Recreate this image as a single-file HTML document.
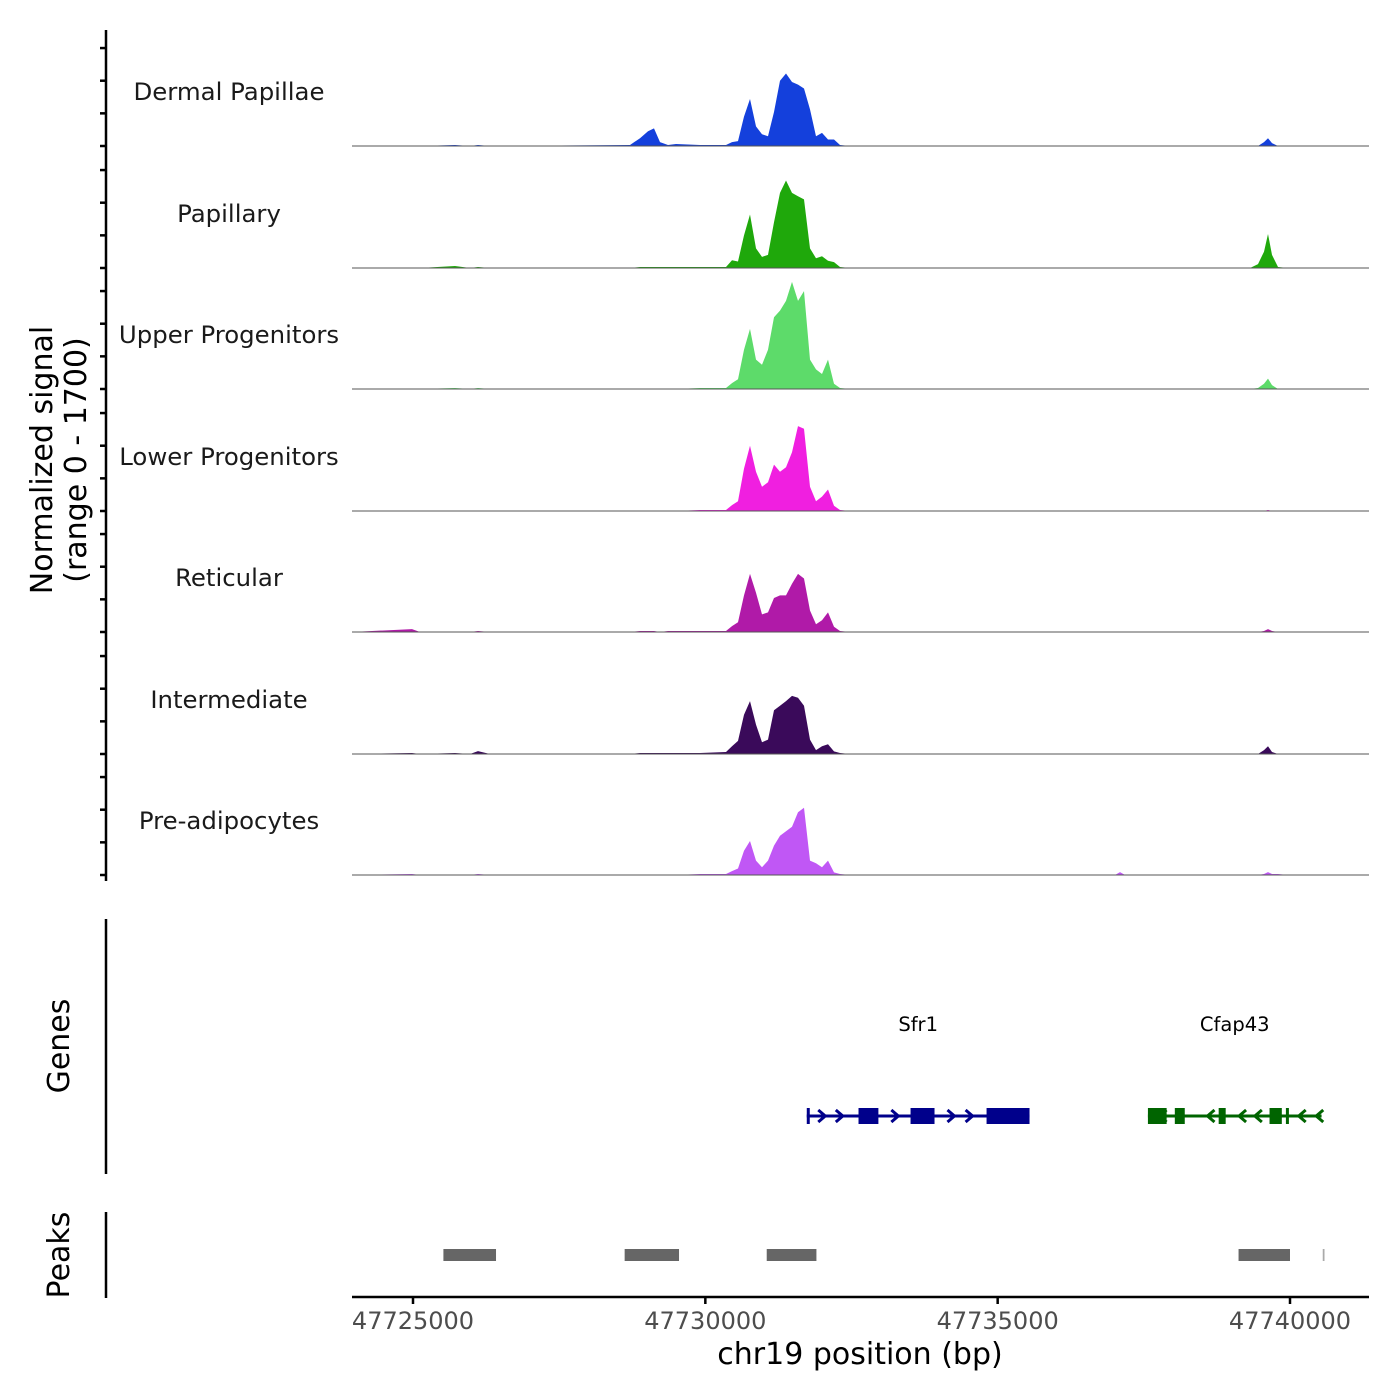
<!DOCTYPE html>
<html><head><meta charset="utf-8"><style>
html,body{margin:0;padding:0;background:#fff;}
svg{display:block;font-family:"DejaVu Sans","Liberation Sans",sans-serif;}
</style></head><body>
<svg id="chart" width="1400" height="1400" viewBox="0 0 1400 1400" xmlns="http://www.w3.org/2000/svg"></svg>
<script>
const positions=[47723957,47724983,47725120,47725718,47725975,47726112,47726317,47728711,47728882,47729019,47729122,47729225,47729361,47729498,47729909,47730353,47730456,47730559,47730661,47730764,47730866,47730969,47731072,47731174,47731277,47731379,47731482,47731585,47731687,47731790,47731893,47731995,47732098,47732201,47732303,47732474,47735040,47737006,47737092,47737180,47739316,47739452,47739555,47739623,47739692,47739795,47739966,47741350];
const trackNames=["Dermal Papillae","Papillary","Upper Progenitors","Lower Progenitors","Reticular","Intermediate","Pre-adipocytes"];
const trackColors=["#1440dc","#1fa80b","#5ddb6a","#f01fe0","#b01aa8","#3a0a5a","#c057f5"];
const dermalValues=[0,0,0,15,0,15,0,15,120,225,270,60,15,30,15,15,60,75,450,720,300,180,150,520,1000,1110,980,940,880,560,150,200,100,100,15,0,0,0,0,0,0,0,60,120,45,0,0,0];
const papillaryValues=[0,0,0,30,0,15,0,0,15,15,15,15,15,15,15,15,120,100,500,820,300,170,200,700,1150,1340,1150,1100,1050,300,150,180,110,90,15,0,0,0,0,0,0,60,250,520,200,15,0,0];
const upperValues=[0,0,0,15,0,15,0,0,0,0,0,0,0,0,15,15,90,150,600,920,450,370,600,1100,1200,1350,1640,1350,1500,450,300,230,450,80,15,0,0,0,0,0,0,15,80,160,60,0,0,0];
const lowerValues=[0,0,0,0,0,0,0,0,0,0,0,0,0,0,15,15,90,150,650,1000,600,370,440,710,600,670,900,1300,1260,370,150,220,330,80,15,0,0,0,0,0,0,0,0,15,0,0,0,0];
const reticularValues=[0,45,0,0,0,15,0,0,15,15,15,0,15,15,15,15,90,150,560,890,600,270,300,520,560,560,740,890,820,330,120,180,300,80,15,0,0,0,0,0,0,0,15,45,15,0,0,0];
const intermediateValues=[0,15,0,15,0,45,0,0,15,15,15,15,15,15,15,30,120,200,600,810,450,180,220,670,740,810,890,860,740,220,60,120,150,40,15,0,0,0,0,0,0,0,60,120,30,0,0,0];
const preadipoValues=[0,15,0,0,0,15,0,0,0,0,0,0,0,0,15,15,60,100,370,520,220,120,220,450,600,670,740,960,1030,220,180,120,220,40,15,0,0,0,45,0,0,0,15,45,15,15,0,0];
const trackValues=[dermalValues,papillaryValues,upperValues,lowerValues,reticularValues,intermediateValues,preadipoValues];
const yTickValues=[0,500,1000,1500];
const xTicks=[47725000,47730000,47735000,47740000];
const xTickLabels=["47725000","47730000","47735000","47740000"];
const peakStarts=[47725520,47728620,47731050,47739120,47740560];
const peakEnds=[47726420,47729550,47731900,47740000,47740590];
const sfr1Exons=[[47731735,47731760],[47732620,47732960],[47733510,47733920],[47734810,47735545]];
const sfr1Span=[47731735,47735545];
const sfr1Arrows=[47732000,47732300,47733250,47734210,47734520];
const cfapExons=[[47737570,47737890],[47738030,47738200],[47738780,47738900],[47739650,47739860],[47739930,47739950]];
const cfapSpan=[47737570,47740540];
const cfapArrows=[47737820,47738640,47739180,47739450,47740200,47740500];

const NS="http://www.w3.org/2000/svg";
const svg=document.getElementById("chart");
function el(tag,attrs,parent){const e=document.createElementNS(NS,tag);for(const k in attrs)e.setAttribute(k,attrs[k]);(parent||svg).appendChild(e);return e;}
const X0=47725000,PX0=413,PXK=(1290-413)/15000;
function xs(bp){return PX0+(bp-X0)*PXK;}
const baselines=[146,268,389,511,632,754,875];
const trackH=111;
function ys(v,i){return baselines[i]-v/1700*trackH;}
const xL=352,xR=1369;

for(let i=0;i<trackValues.length;i++){
  const g=el("g",{});
  
  
  let d="M"+xL+","+baselines[i];
  for(let j=0;j<positions.length;j++){d+=" L"+xs(positions[j]).toFixed(1)+","+ys(trackValues[i][j],i).toFixed(1);}
  d+=" L"+xR+","+baselines[i]+" Z";
  const p=el("path",{d:d,fill:trackColors[i],stroke:"none"},g);
  
  
  const bl=el("line",{x1:xL,x2:xR,y1:baselines[i],y2:baselines[i],stroke:"#555",'stroke-width':1},g);
  
  
  const t=el("text",{x:229,y:baselines[i]-46,'text-anchor':'middle','font-size':24.4,fill:"#1a1a1a"},g);
  t.textContent=trackNames[i];
  
  
  for(const v of yTickValues){const y=ys(v,i);
    const tk=el("line",{x1:100,x2:106,y1:y,y2:y,stroke:"#000",'stroke-width':2.5});
    }
}

function vline(y1,y2,name){const l=el("line",{x1:106,x2:106,y1:y1,y2:y2,stroke:"#000",'stroke-width':2.5});}
vline(30,881,'signal-y-axis');vline(919,1174,'genes-y-axis');vline(1212,1298,'peaks-y-axis');
const yt=el("text",{transform:"translate(52,460) rotate(-90)",'text-anchor':'middle','font-size':30,fill:"#000"});

const ts1=el("tspan",{x:0,dy:0},yt);ts1.textContent="Normalized signal";
const ts2=el("tspan",{x:0,dy:34},yt);ts2.textContent="(range 0 - 1700)";
const gt=el("text",{transform:"translate(69,1046) rotate(-90)",'text-anchor':'middle','font-size':30,fill:"#000"});
gt.textContent="Genes";
const pt=el("text",{transform:"translate(69,1255) rotate(-90)",'text-anchor':'middle','font-size':30,fill:"#000"});
pt.textContent="Peaks";

function gene(span,exons,arrows,dir,color,label,name){
  const g=el("g",{});
  const y=1116;
  el("line",{x1:xs(span[0]),x2:xs(span[1]),y1:y,y2:y,stroke:color,'stroke-width':3},g);
  for(const e of exons){const w=Math.max(3,xs(e[1])-xs(e[0]));
    const r=el("rect",{x:xs(e[0]),y:y-8,width:w,height:16,fill:color},g);
    }
  for(const a of arrows){const x=xs(a);
    const d=dir>0?`M${x-4},${y-6} L${x+3},${y} L${x-4},${y+6}`:`M${x+4},${y-6} L${x-3},${y} L${x+4},${y+6}`;
    el("path",{d:d,fill:"none",stroke:color,'stroke-width':3},g);}
  const t=el("text",{x:(xs(span[0])+xs(span[1]))/2,y:1031,'text-anchor':'middle','font-size':19.5,fill:"#000"},g);
  t.textContent=label;
}
gene(sfr1Span,sfr1Exons,sfr1Arrows,1,"#00008b","Sfr1","gene-sfr1");
gene(cfapSpan,cfapExons,cfapArrows,-1,"#006400","Cfap43","gene-cfap43");

for(let i=0;i<peakStarts.length;i++){
  const w=Math.max(1,xs(peakEnds[i])-xs(peakStarts[i]));
  const r=el("rect",{x:xs(peakStarts[i]),y:1249,width:w,height:12,fill:w<3?"#aaa":"#666"});
  
}

const xa=el("line",{x1:xL,x2:xR,y1:1297,y2:1297,stroke:"#000",'stroke-width':2.5});

for(let i=0;i<xTicks.length;i++){const x=xs(xTicks[i]);
  const t=el("line",{x1:x,x2:x,y1:1297,y2:1304,stroke:"#000",'stroke-width':2.5});
  
  const l=el("text",{x:x,y:1329,'text-anchor':'middle','font-size':24,fill:"#4d4d4d"});
  l.textContent=xTickLabels[i];}
const xt=el("text",{x:860,y:1364,'text-anchor':'middle','font-size':30,fill:"#000"});
xt.textContent="chr19 position (bp)";
</script>
</body></html>
